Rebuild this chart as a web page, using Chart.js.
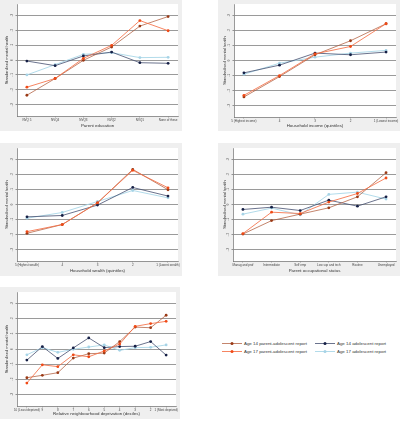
<!DOCTYPE html>
<html>
<head>
<meta charset="utf-8">
<script src="https://cdn.jsdelivr.net/npm/chart.js@4.4.1/dist/chart.umd.min.js"></script>
<style>
  html, body { margin: 0; padding: 0; background: #fff; }
  body { width: 407px; height: 440px; position: relative; overflow: hidden; font-family: "Liberation Sans", Arial, sans-serif; }
  .panel { position: absolute; }
  #legend { position: absolute; left: 222px; top: 340px; font-size: 4.4px; color: #333; line-height: 8px; }
  .item { position: absolute; white-space: nowrap; }
  .item svg { vertical-align: middle; margin-right: 2px; }
</style>
</head>
<body>
<div class="panel" id="p1"><canvas id="c1"></canvas></div>
<div class="panel" id="p2"><canvas id="c2"></canvas></div>
<div class="panel" id="p3"><canvas id="c3"></canvas></div>
<div class="panel" id="p4"><canvas id="c4"></canvas></div>
<div class="panel" id="p5"><canvas id="c5"></canvas></div>
<div id="legend"></div>
<script>
// series names, shared by all panels
const seriesNames = ["Age 14 parent-adolescent report", "Age 17 parent-adolescent report", "Age 14 adolescent report", "Age 17 adolescent report"];
const yTicks = [-0.3, -0.2, -0.1, 0, 0.1, 0.2, 0.3];

// parent education
const eduLabels = ["NVQ 5", "NVQ4", "NVQ3", "NVQ2", "NVQ1", "None of these"];
const eduP14 = [-0.236, -0.124, -0.002, 0.087, 0.227, 0.291];
const eduP17 = [-0.182, -0.124, 0.011, 0.098, 0.264, 0.196];
const eduA14 = [-0.007, -0.038, 0.027, 0.053, -0.018, -0.022];
const eduA17 = [-0.100, -0.031, 0.038, 0.049, 0.016, 0.018];

// household income
const incLabels = ["5 (Highest income)", "4", "3", "2", "1 (Lowest income)"];
const incP14 = [-0.242, -0.107, 0.038, 0.131, 0.244];
const incP17 = [-0.231, -0.100, 0.044, 0.093, 0.244];
const incA14 = [-0.082, -0.031, 0.049, 0.038, 0.056];
const incA17 = [-0.091, -0.018, 0.022, 0.049, 0.067];

// household wealth
const wthLabels = ["5 (Highest wealth)", "4", "3", "2", "1 (Lowest wealth)"];
const wthP14 = [-0.191, -0.133, 0.011, 0.233, 0.098];
const wthP17 = [-0.180, -0.133, 0.011, 0.227, 0.111];
const wthA14 = [-0.082, -0.073, -0.004, 0.113, 0.056];
const wthA17 = [-0.091, -0.053, 0.020, 0.093, 0.044];

// parent occupational status
const occLabels = ["Manag and prof", "Intermediate", "Self emp", "Low sup and tech", "Routine", "Unemployed"];
const occP14 = [-0.196, -0.107, -0.064, -0.022, 0.051, 0.211];
const occP17 = [-0.193, -0.051, -0.060, 0.016, 0.073, 0.176];
const occA14 = [-0.033, -0.018, -0.040, 0.029, -0.011, 0.051];
const occA17 = [-0.064, -0.024, -0.069, 0.067, 0.082, 0.036];

// neighbourhood deprivation
const depLabels = ["10 (Least deprived)", "9", "8", "7", "6", "5", "4", "3", "2", "1 (Most deprived)"];
const depP14 = [-0.189, -0.173, -0.156, -0.060, -0.031, -0.027, 0.049, 0.144, 0.140, 0.222];
const depP17 = [-0.224, -0.104, -0.116, -0.038, -0.051, -0.013, 0.033, 0.149, 0.167, 0.182];
const depA14 = [-0.073, 0.016, -0.062, 0.007, 0.073, 0.009, 0.016, 0.018, 0.049, -0.040];
const depA17 = [-0.038, 0.009, -0.022, -0.002, 0.013, 0.027, -0.009, 0.009, 0.011, 0.027];

const lineColors = ["rgba(176,92,60,0.75)", "rgba(244,112,70,0.85)", "rgba(70,80,112,0.8)", "rgba(170,215,232,0.9)"];
const markColors = ["#9a3a16", "#f04a16", "#151f45", "#a6d3e6"];
const drawOrder = [2, 1, 3, 4];

const font = "'Liberation Sans', Arial, sans-serif";

function stataLabel(v) {
  if (Math.abs(v) < 1e-9) return "0";
  return v.toFixed(1).replace("0.", ".");
}

const stataLook = {
  id: "stataLook",
  beforeDraw(chart) {
    const { ctx, chartArea: a, width, height } = chart;
    ctx.save();
    ctx.fillStyle = "#efefef";
    ctx.fillRect(0, 0, width, height);
    ctx.fillStyle = "#ffffff";
    ctx.fillRect(a.left, a.top, a.right - a.left, a.bottom - a.top);
    ctx.restore();
  },
  afterDraw(chart) {
    // vertical y tick labels, Stata style
    const { ctx, chartArea: a } = chart;
    const y = chart.scales.y;
    ctx.save();
    ctx.fillStyle = "#444";
    ctx.font = "3px " + font;
    ctx.textAlign = "center";
    ctx.textBaseline = "middle";
    yTicks.forEach(v => {
      ctx.save();
      ctx.translate(a.left - 4.5, y.getPixelForValue(v));
      ctx.rotate(-Math.PI / 2);
      ctx.fillText(stataLabel(v), 0, 0);
      ctx.restore();
    });
    ctx.restore();
  }
};

function makePanel(id, box, plot, labels, series, xTitle) {
  const holder = document.getElementById("p" + id);
  holder.style.left = box[0] + "px";
  holder.style.top = box[1] + "px";
  holder.style.width = box[2] + "px";
  holder.style.height = box[3] + "px";

  const n = labels.length;
  const plotW = plot[2] - plot[0];
  const pad = 10 * (n - 1) / (plotW - 20);

  const datasets = series.map((vals, s) => ({
    label: seriesNames[s],
    data: vals.map((v, i) => ({ x: i, y: v })),
    borderColor: lineColors[s],
    backgroundColor: markColors[s],
    pointBorderColor: markColors[s],
    borderWidth: 1,
    pointRadius: 1.4,
    pointBorderWidth: 0,
    tension: 0,
    order: drawOrder[s]
  }));

  new Chart(document.getElementById("c" + id), {
    type: "line",
    data: { datasets },
    options: {
      responsive: true,
      maintainAspectRatio: false,
      animation: false,
      devicePixelRatio: 1,
      layout: {
        padding: { top: plot[1] - box[1], right: box[0] + box[2] - plot[2], left: 0, bottom: 0 }
      },
      plugins: { legend: { display: false }, tooltip: { enabled: false } },
      scales: {
        x: {
          type: "linear",
          min: -pad,
          max: n - 1 + pad,
          afterBuildTicks: (scale) => { scale.ticks = labels.map((_, i) => ({ value: i })); },
          afterFit: (scale) => { scale.height = box[1] + box[3] - plot[3]; },
          grid: { display: true, drawOnChartArea: false, drawTicks: true, tickLength: 1.5, color: "#555", lineWidth: 0.5 },
          border: { display: true, color: "#555", width: 0.6 },
          ticks: {
            autoSkip: false, maxRotation: 0, minRotation: 0, padding: 1,
            color: "#444", font: { size: 3, family: font },
            callback: (v) => labels[v]
          },
          title: { display: true, text: xTitle, color: "#333", font: { size: 4.4, family: font }, padding: { top: 0, bottom: 3 } }
        },
        y: {
          min: -0.375,
          max: 0.375,
          afterBuildTicks: (scale) => { scale.ticks = yTicks.map(v => ({ value: v })); },
          afterFit: (scale) => { scale.width = plot[0] - box[0]; },
          grid: { display: true, drawTicks: true, tickLength: 1.5, color: (c) => c.type === "tick" ? "#555" : "#e2eaee", lineWidth: 0.6 },
          border: { display: true, color: "#555", width: 0.6 },
          ticks: { display: false },
          title: { display: true, text: "Standardised mental health", color: "#333", font: { size: 4, family: font }, padding: { top: 4.6, bottom: 0 } }
        }
      }
    },
    plugins: [stataLook]
  });
}

makePanel(1, [0, 0, 182, 131], [17, 4, 180, 116], eduLabels, [eduP14, eduP17, eduA14, eduA17], "Parent education");
makePanel(2, [218, 0, 182, 131], [234, 4, 397, 117], incLabels, [incP14, incP17, incA14, incA17], "Household income (quintiles)");
makePanel(3, [0, 143, 182, 133], [17, 148, 178, 261], wthLabels, [wthP14, wthP17, wthA14, wthA17], "Household wealth (quintiles)");
makePanel(4, [218, 143, 182, 133], [233, 148, 397, 261], occLabels, [occP14, occP17, occA14, occA17], "Parent occupational status");
makePanel(5, [0, 287, 180, 132], [17, 292, 178, 406], depLabels, [depP14, depP17, depA14, depA17], "Relative neighbourhood deprivation (deciles)");

// legend: two columns, two rows
const legend = document.getElementById("legend");
const legendPos = [[0, 0], [0, 8], [93, 0], [93, 8]];
seriesNames.forEach((name, s) => {
  const div = document.createElement("div");
  div.className = "item";
  div.style.left = legendPos[s][0] + "px";
  div.style.top = legendPos[s][1] + "px";
  div.innerHTML = '<svg width="20" height="5"><line x1="0" y1="2.5" x2="20" y2="2.5" stroke="' + lineColors[s] +
    '" stroke-width="1"/><circle cx="10" cy="2.5" r="1.5" fill="' + markColors[s] + '"/></svg>' + name;
  legend.appendChild(div);
});
</script>
</body>
</html>
